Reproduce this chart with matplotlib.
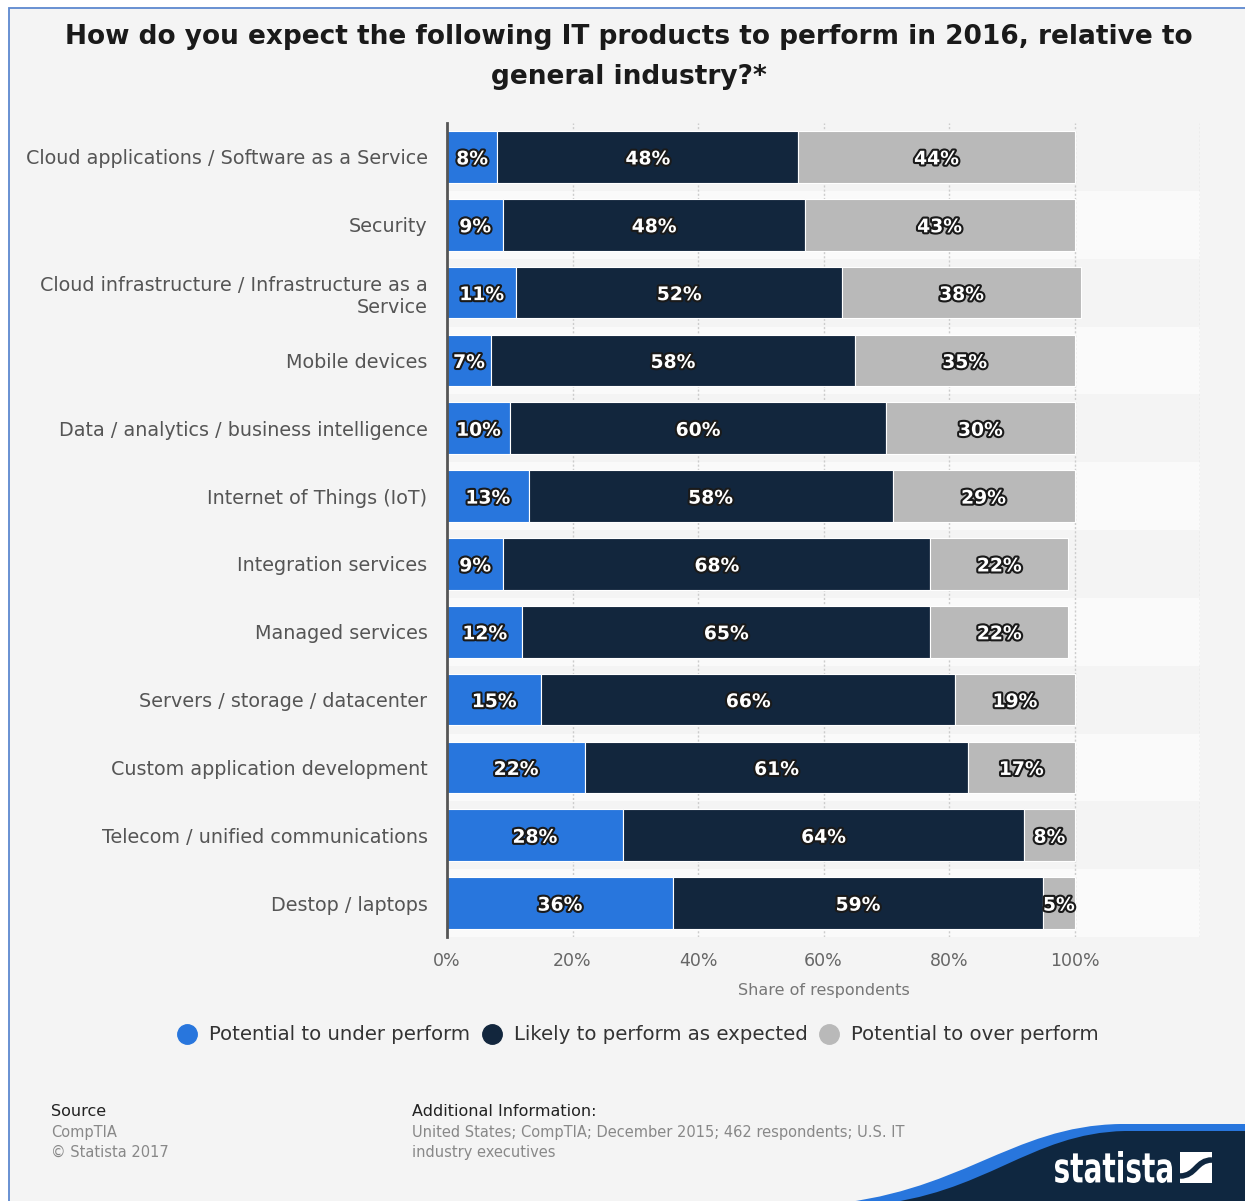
import numpy as np
import matplotlib
matplotlib.use("Agg")
import matplotlib.pyplot as plt
from matplotlib.patches import Rectangle, PathPatch
from matplotlib.path import Path
from matplotlib.lines import Line2D
from matplotlib.textpath import TextPath
from matplotlib.font_manager import FontProperties
import matplotlib.transforms as mtransforms
import matplotlib.patheffects as pe

categories = [
    "Cloud applications / Software as a Service",
    "Security",
    "Cloud infrastructure / Infrastructure as a\nService",
    "Mobile devices",
    "Data / analytics / business intelligence",
    "Internet of Things (IoT)",
    "Integration services",
    "Managed services",
    "Servers / storage / datacenter",
    "Custom application development",
    "Telecom / unified communications",
    "Destop / laptops",
]
under = [8, 9, 11, 7, 10, 13, 9, 12, 15, 22, 28, 36]
expected = [48, 48, 52, 58, 60, 58, 68, 65, 66, 61, 64, 59]
over = [44, 43, 38, 35, 30, 29, 22, 22, 19, 17, 8, 5]
series_names = ["Potential to under perform", "Likely to perform as expected",
                "Potential to over perform"]
colors = ["#2876dd", "#12263d", "#b9b9b9"]
xticks = [0, 20, 40, 60, 80, 100]

W, H = 1245, 1201
BG = "#f4f4f4"


def fx(x):
    return x / W


def fy(y):
    return 1 - y / H


fig = plt.figure(figsize=(W / 100, H / 100), dpi=100, facecolor="white")
fig.patches.append(Rectangle((fx(9), fy(1220)), fx(1260) - fx(9), fy(8) - fy(1220),
                             transform=fig.transFigure, facecolor=BG,
                             edgecolor="#5d88cf", linewidth=1.3, zorder=-10))

ax = fig.add_axes([fx(447), fy(937), fx(1200) - fx(447), fy(123) - fy(937)])
ax.set_facecolor(BG)
ax.patch.set_alpha(0)

y = np.arange(len(categories))
for i in y:
    if i % 2 == 1:
        ax.axhspan(i - 0.5, i + 0.5, xmin=0, xmax=1, color="#fafafa", zorder=0, lw=0)

left = np.zeros(len(categories))
for vals, col, name in zip([under, expected, over], colors, series_names):
    vals = np.array(vals, dtype=float)
    ax.barh(y, vals, left=left, height=0.76, color=col, edgecolor="white",
            linewidth=0.8, zorder=2, label=name)
    for yi, l, v in zip(y, left, vals):
        ax.text(l + v / 2, yi + 0.03, f"{int(v)}%", ha="center", va="center",
                color="white", fontsize=13.5, fontweight="bold", zorder=3,
                path_effects=[pe.withStroke(linewidth=3, foreground="#1a1a1a")])
    left = left + vals

ax.set_xlim(0, 120)
ax.set_ylim(len(categories) - 0.5, -0.5)
ax.set_yticks(y)
ax.set_yticklabels(categories, fontsize=13.8, color="#555555")
ax.set_xticks(xticks)
ax.set_xticklabels([f"{t}%" for t in xticks], fontsize=12.5, color="#666666")
ax.tick_params(axis="both", length=0)
ax.tick_params(axis="y", pad=14)
ax.tick_params(axis="x", pad=11)
for x in [20, 40, 60, 80, 100, 120]:
    ax.axvline(x, color="#cccccc", linestyle=(0, (1.5, 1.5)), linewidth=1, zorder=1)
for s in ["top", "right", "bottom"]:
    ax.spines[s].set_visible(False)
ax.spines["left"].set_color("#555555")
ax.spines["left"].set_linewidth(2)
ax.spines["left"].set_zorder(4)
ax.set_xlabel("Share of respondents", fontsize=11.5, color="#777777", labelpad=9)

fig.text(fx(629), fy(37), "How do you expect the following IT products to perform in 2016, relative to",
         ha="center", va="center", fontsize=19, fontweight="bold", color="#1a1a1a")
fig.text(fx(629), fy(77), "general industry?*",
         ha="center", va="center", fontsize=19, fontweight="bold", color="#1a1a1a")

handles = [Line2D([], [], marker="o", linestyle="", markersize=14,
                  markerfacecolor=c, markeredgecolor=c) for c in colors]
fig.legend(handles, series_names, loc="center", bbox_to_anchor=(fx(637), fy(1035)),
           ncol=3, frameon=False, fontsize=14.2, handletextpad=0.5,
           columnspacing=0.5, labelcolor="#333333", handlelength=1.2)

fig.text(fx(51), fy(1112), "Source", ha="left", va="center", fontsize=11.5, color="#222222")
fig.text(fx(51), fy(1133), "CompTIA", ha="left", va="center", fontsize=10.5, color="#888888")
fig.text(fx(51), fy(1152), "\u00a9 Statista 2017", ha="left", va="center", fontsize=10.5, color="#888888")
fig.text(fx(412), fy(1112), "Additional Information:", ha="left", va="center", fontsize=11.5, color="#222222")
fig.text(fx(412), fy(1133), "United States; CompTIA; December 2015; 462 respondents; U.S. IT",
         ha="left", va="center", fontsize=10.5, color="#888888")
fig.text(fx(412), fy(1152), "industry executives", ha="left", va="center", fontsize=10.5, color="#888888")


# statista logo
def pix_path(pts, codes):
    return Path([(fx(a), fy(b)) for a, b in pts], codes)


C = Path.CURVE4
blue = pix_path([(820, 1205), (960, 1195), (1010, 1126), (1120, 1124), (1250, 1124),
                 (1250, 1205), (820, 1205)],
                [Path.MOVETO, C, C, C, Path.LINETO, Path.LINETO, Path.CLOSEPOLY])
dark = pix_path([(870, 1205), (985, 1195), (1030, 1133), (1125, 1131), (1250, 1131),
                 (1250, 1205), (870, 1205)],
                [Path.MOVETO, C, C, C, Path.LINETO, Path.LINETO, Path.CLOSEPOLY])
fig.patches.append(PathPatch(blue, transform=fig.transFigure, facecolor="#2876dd", lw=0, zorder=1))
fig.patches.append(PathPatch(dark, transform=fig.transFigure, facecolor="#0f2740", lw=0, zorder=1))

tp = TextPath((0, 0), "statista", size=1, prop=FontProperties(family="DejaVu Sans", weight="bold"))
ext = tp.get_extents()
sx = 117 / ext.width
sy = 32 / ext.height
tr = mtransforms.Affine2D().translate(-ext.x0, -ext.y0).scale(sx, sy).translate(1055, H - 1183)
fig.patches.append(PathPatch(tr.transform_path(tp), transform=mtransforms.IdentityTransform(),
                             facecolor="white", lw=0, zorder=2))
fig.patches.append(Rectangle((fx(1180), fy(1183)), 32 / W, 31 / H,
                             transform=fig.transFigure, facecolor="white", lw=0, zorder=2))
swoosh = pix_path([(1180, 1176), (1196, 1176), (1196, 1160), (1212, 1160)],
                  [Path.MOVETO, C, C, C])
fig.patches.append(PathPatch(swoosh, transform=fig.transFigure, facecolor="none",
                             edgecolor="#0f2740", lw=4, zorder=3))

fig.savefig("out.png", dpi=100, facecolor=fig.get_facecolor())
